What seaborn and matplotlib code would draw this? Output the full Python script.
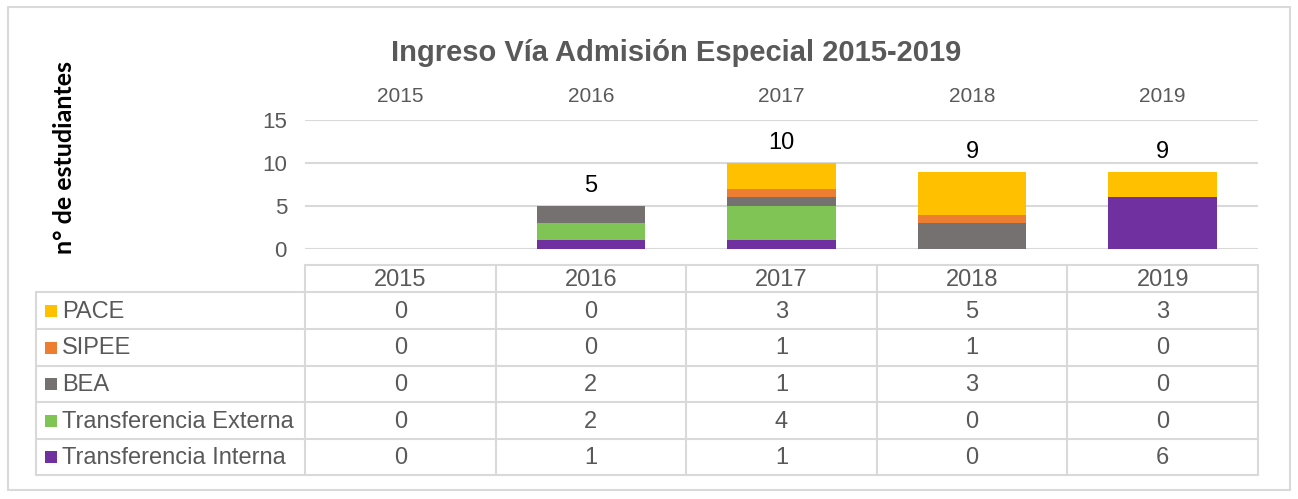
import numpy as np
import pandas as pd
import matplotlib.pyplot as plt
from matplotlib.patches import Rectangle
import seaborn as sns

# ---------------------- DATA ----------------------
years = ["2015", "2016", "2017", "2018", "2019"]
series = ["PACE", "SIPEE", "BEA", "Transferencia Externa", "Transferencia Interna"]
pace = [0, 0, 3, 5, 3]
sipee = [0, 0, 1, 1, 0]
bea = [0, 2, 1, 3, 0]
t_ext = [0, 2, 4, 0, 0]
t_int = [0, 1, 1, 0, 6]
colors = ["#FFC000", "#ED7D31", "#767171", "#7FC454", "#7030A0"]

df = pd.DataFrame({"Año": years, "PACE": pace, "SIPEE": sipee, "BEA": bea,
                   "Transferencia Externa": t_ext, "Transferencia Interna": t_int})
totals = df[series].sum(axis=1).values

# ---------------------- STYLE ----------------------
sns.set_style("white")
plt.rcParams["font.family"] = ["Liberation Sans", "DejaVu Sans"]
grey_txt = "#595959"
line_col = "#D9D9D9"

W, H = 1298, 499
fig = plt.figure(figsize=(W / 100, H / 100), dpi=100)

# bar area (pixel box -> figure coords)
x0, x1, y_top, y_bot = 305, 1258, 120, 249
ax = fig.add_axes([x0 / W, 1 - y_bot / H, (x1 - x0) / W, (y_bot - y_top) / H])

bottom = np.zeros(len(years))
for name, col in reversed(list(zip(series, colors))):
    sns.barplot(data=df, x="Año", y=name, color=col, bottom=bottom, width=0.57,
                errorbar=None, saturation=1, linewidth=0, ax=ax)
    bottom = bottom + df[name].values

for i, tot in enumerate(totals):
    if tot > 0:
        ax.text(i, tot + 2.3, str(tot), ha="center", va="center", fontsize=17, color="black")

ax.set_xlim(-0.5, len(years) - 0.5)
ax.set_ylim(0, 15)
ax.set_yticks([0, 5, 10, 15])
ax.set_xlabel("")
ax.set_ylabel("")
ax.xaxis.tick_top()
ax.tick_params(axis="x", length=0, pad=10, labelsize=15, labelcolor=grey_txt)
ax.tick_params(axis="y", length=0, pad=13, labelsize=16, labelcolor=grey_txt)
ax.yaxis.grid(True, color=line_col, linewidth=1.5)
ax.set_axisbelow(True)
sns.despine(ax=ax, left=True, bottom=True)

# ---------------------- OVERLAY: frame, title, table ----------------------
ov = fig.add_axes([0, 0, 1, 1], zorder=-1)
ov.set_xlim(0, W)
ov.set_ylim(H, 0)
ov.axis("off")

ov.add_patch(Rectangle((8, 7), 1282, 483, fill=False, ec=line_col, lw=1.5))
ov.text(676, 53, "Ingreso Vía Admisión Especial 2015-2019", ha="center", va="center",
        fontsize=21, fontweight="bold", color=grey_txt)
ov.text(64, 157, "n° de estudiantes", rotation=90, ha="center", va="center",
        fontsize=18, fontweight="bold", color="black", family=["Lato", "DejaVu Sans"])

col_x = [x0 + i * (x1 - x0) / len(years) for i in range(len(years) + 1)]
row_y = [265, 292, 329, 366, 402, 439, 475]
lab_x = 36

# grid of the table
ov.plot([x0, x1], [row_y[0]] * 2, color=line_col, lw=1.5)
for y in row_y[1:]:
    ov.plot([lab_x, x1], [y, y], color=line_col, lw=1.5)
for x in col_x:
    ov.plot([x, x], [row_y[0], row_y[-1]], color=line_col, lw=1.5)
ov.plot([lab_x, lab_x], [row_y[1], row_y[-1]], color=line_col, lw=1.5)

for j, yr in enumerate(years):
    ov.text((col_x[j] + col_x[j + 1]) / 2, (row_y[0] + row_y[1]) / 2 + 1, yr,
            ha="center", va="center", fontsize=17, color=grey_txt)

for r, (name, col) in enumerate(zip(series, colors)):
    yc = (row_y[r + 1] + row_y[r + 2]) / 2
    ov.add_patch(Rectangle((45, yc - 6), 12, 12, color=col, lw=0))
    ov.text(62, yc + 1, name, ha="left", va="center", fontsize=17, color=grey_txt)
    for j, v in enumerate(df[name].values):
        ov.text((col_x[j] + col_x[j + 1]) / 2, yc + 1, str(v),
                ha="center", va="center", fontsize=17, color=grey_txt)

fig.savefig("out.png", dpi=100)
